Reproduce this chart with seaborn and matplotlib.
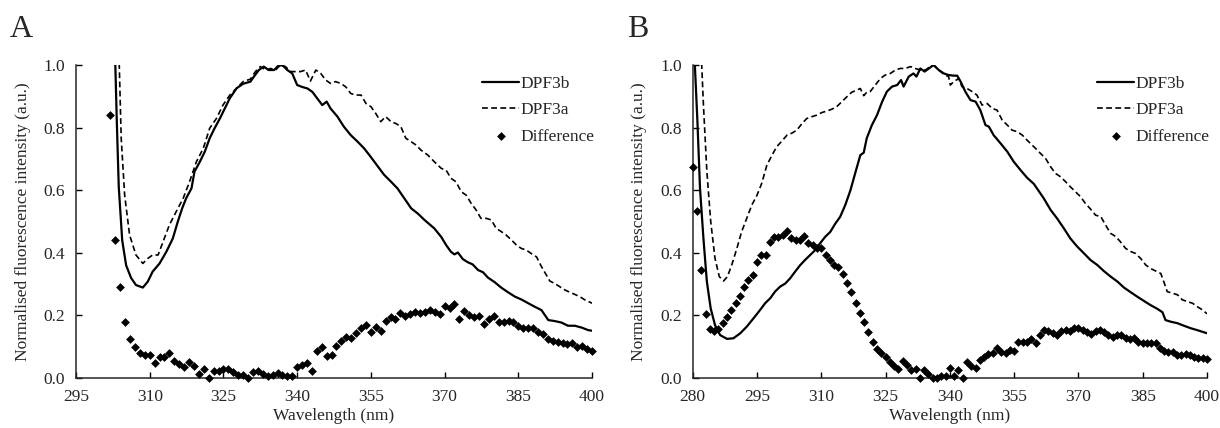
import numpy as np
import pandas as pd
import matplotlib
matplotlib.use('Agg')
import matplotlib.pyplot as plt
import seaborn as sns

# ---- Panel A data ----
a_3b_nm = [302.5, 303.0, 303.3, 303.7, 304.4, 305.2, 306.2, 307.2, 308.6, 309.6,
           310.6, 312.0, 313.4, 314.7, 315.7, 316.6, 317.4, 318.5, 319.1, 320.2,
           321.2, 322.2, 323.2, 324.3, 325.3, 326.3, 327.7, 329.0, 330.5, 331.2,
           332.2, 333.2, 334.2, 335.3, 336.3, 337.1, 338.0, 339.0, 340.0, 341.0,
           342.1, 343.1, 344.1, 345.1, 346.0, 346.8, 348.2, 349.5, 350.9, 352.3,
           353.6, 354.7, 355.7, 356.7, 357.7, 359.1, 360.4, 361.8, 363.2, 364.5,
           365.9, 367.9, 369.3, 370.3, 371.3, 372.0, 372.7, 373.7, 374.7, 375.7,
           376.8, 377.8, 378.8, 380.2, 381.5, 382.9, 384.3, 385.6, 387.0, 388.3,
           389.7, 390.4, 391.1, 392.4, 393.8, 395.1, 396.5, 397.9, 399.2, 400.0]
a_3b = [1.40, 1.00, 0.82, 0.61, 0.44, 0.36, 0.32, 0.297, 0.289, 0.308,
        0.34, 0.366, 0.404, 0.446, 0.499, 0.542, 0.574, 0.606, 0.659, 0.691,
        0.723, 0.766, 0.798, 0.83, 0.862, 0.894, 0.926, 0.940, 0.947, 0.963,
        0.984, 0.995, 0.984, 0.984, 1.0, 0.998, 0.984, 0.973, 0.936, 0.93,
        0.925, 0.914, 0.893, 0.872, 0.883, 0.861, 0.835, 0.803, 0.776, 0.755,
        0.734, 0.712, 0.691, 0.67, 0.649, 0.627, 0.606, 0.574, 0.542, 0.526,
        0.505, 0.478, 0.451, 0.425, 0.403, 0.395, 0.401, 0.38, 0.37, 0.363,
        0.345, 0.338, 0.321, 0.306, 0.289, 0.274, 0.26, 0.251, 0.239, 0.228,
        0.217, 0.201, 0.185, 0.182, 0.177, 0.167, 0.167, 0.161, 0.153, 0.151]

a_3a_nm = [303.3, 303.8, 304.2, 304.9, 305.9, 307.2, 308.6, 309.6, 310.6, 311.7,
           312.7, 314.0, 315.4, 316.8, 318.1, 319.5, 320.9, 322.2, 323.6, 324.9,
           326.3, 327.7, 329.0, 330.5, 331.5, 332.5, 333.6, 334.6, 335.6, 336.6,
           337.6, 338.7, 339.7, 340.7, 341.7, 342.7, 343.8, 344.8, 345.8, 346.8,
           347.8, 348.9, 349.9, 350.9, 351.9, 353.0, 354.0, 355.0, 356.0, 357.0,
           358.0, 359.1, 360.1, 361.1, 362.1, 363.2, 364.2, 365.2, 366.6, 367.9,
           369.3, 370.3, 371.3, 372.3, 373.4, 374.4, 375.4, 376.4, 377.4, 378.5,
           379.5, 380.5, 381.5, 382.5, 383.6, 384.6, 385.6, 386.6, 387.6, 388.7,
           389.7, 390.7, 391.4, 392.4, 393.4, 394.5, 395.5, 396.5, 397.5, 398.5,
           400.0]
a_3a = [1.40, 1.0, 0.765, 0.584, 0.457, 0.393, 0.366, 0.382, 0.393, 0.393,
        0.435, 0.489, 0.532, 0.574, 0.627, 0.691, 0.734, 0.798, 0.83, 0.872,
        0.904, 0.926, 0.947, 0.955, 0.979, 0.995, 0.984, 0.989, 0.984, 1.0,
        0.995, 0.979, 0.979, 0.979, 0.984, 0.949, 0.984, 0.973, 0.952, 0.941,
        0.947, 0.941, 0.93, 0.909, 0.904, 0.904, 0.877, 0.867, 0.845, 0.819,
        0.835, 0.819, 0.813, 0.803, 0.766, 0.755, 0.744, 0.728, 0.712, 0.691,
        0.67, 0.664, 0.638, 0.627, 0.595, 0.584, 0.558, 0.537, 0.51, 0.51,
        0.505, 0.478, 0.468, 0.457, 0.441, 0.425, 0.414, 0.409, 0.398, 0.387,
        0.356, 0.329, 0.31, 0.302, 0.292, 0.281, 0.274, 0.267, 0.26, 0.25,
        0.239]

a_diff_nm = np.arange(302, 401)
a_diff = [0.84, 0.44, 0.29, 0.18, 0.126, 0.10, 0.079, 0.073, 0.073, 0.047,
          0.068, 0.067, 0.079, 0.055, 0.045, 0.034, 0.05, 0.037, 0.013, 0.028,
          0.0, 0.023, 0.023, 0.028, 0.028, 0.019, 0.01, 0.01, 0.0, 0.02,
          0.022, 0.013, 0.006, 0.01, 0.017, 0.01, 0.006, 0.006, 0.036, 0.04,
          0.047, 0.022, 0.086, 0.098, 0.07, 0.073, 0.103, 0.118, 0.132, 0.129,
          0.143, 0.159, 0.169, 0.148, 0.164, 0.15, 0.183, 0.194, 0.19, 0.209,
          0.199, 0.203, 0.212, 0.207, 0.212, 0.217, 0.21, 0.203, 0.231, 0.223,
          0.235, 0.187, 0.215, 0.201, 0.194, 0.198, 0.173, 0.19, 0.198, 0.178,
          0.178, 0.182, 0.18, 0.167, 0.159, 0.161, 0.161, 0.148, 0.141, 0.125,
          0.119, 0.116, 0.113, 0.109, 0.111, 0.1, 0.103, 0.092, 0.087]

# ---- Panel B data ----
b_3b_nm = [280.0, 280.5, 281.1, 281.7, 282.5, 283.3, 284.2, 285.2, 286.4, 288.0,
           289.5, 291.1, 292.6, 294.2, 295.7, 296.9, 298.1, 299.2, 300.4, 301.6,
           302.7, 303.9, 305.1, 306.2, 307.4, 308.6, 309.7, 310.9, 312.1, 313.3,
           314.4, 315.6, 316.8, 317.9, 319.1, 319.9, 320.6, 321.8, 323.0, 324.2,
           325.3, 326.5, 327.7, 328.6, 329.2, 330.4, 331.5, 332.2, 333.1, 334.1,
           335.1, 336.2, 337.4, 338.6, 339.7, 340.9, 341.7, 342.5, 343.6, 344.8,
           346.0, 347.1, 348.3, 349.1, 350.2, 351.8, 353.4, 354.9, 356.5, 358.0,
           359.6, 361.1, 361.9, 363.5, 365.0, 366.6, 368.1, 369.7, 371.3, 372.8,
           374.4, 375.9, 377.5, 379.1, 380.6, 382.2, 383.7, 385.3, 386.8, 388.4,
           389.6, 390.3, 391.5, 393.1, 394.6, 396.2, 397.7, 399.3, 400.0]
b_3b = [1.45, 1.0, 0.819, 0.606, 0.446, 0.308, 0.222, 0.169, 0.137, 0.125,
        0.127, 0.143, 0.164, 0.191, 0.217, 0.239, 0.255, 0.276, 0.292, 0.302,
        0.318, 0.34, 0.361, 0.377, 0.393, 0.409, 0.43, 0.451, 0.467, 0.494,
        0.515, 0.553, 0.6, 0.654, 0.712, 0.72, 0.766, 0.808, 0.84, 0.883,
        0.915, 0.931, 0.936, 0.952, 0.931, 0.963, 0.973, 0.963, 0.989, 0.979,
        0.989, 1.0, 0.984, 0.973, 0.968, 0.966, 0.966, 0.947, 0.915, 0.888,
        0.883, 0.856, 0.808, 0.803, 0.776, 0.75, 0.723, 0.691, 0.664, 0.64,
        0.62, 0.59, 0.574, 0.537, 0.51, 0.478, 0.446, 0.42, 0.398, 0.377,
        0.361, 0.342, 0.324, 0.308, 0.289, 0.274, 0.26, 0.246, 0.233, 0.221,
        0.21, 0.185, 0.18, 0.175, 0.167, 0.159, 0.153, 0.146, 0.143]

b_3a_nm = [281.8, 282.1, 282.5, 283.3, 284.2, 285.2, 286.2, 287.2, 288.1, 289.1,
           290.3, 291.4, 292.6, 293.8, 295.0, 296.1, 297.3, 298.5, 299.6, 300.8,
           302.0, 303.1, 304.3, 305.5, 306.6, 307.8, 309.0, 310.1, 311.3, 312.5,
           313.6, 314.8, 316.0, 317.1, 318.3, 319.1, 319.9, 320.6, 321.4, 322.6,
           323.8, 324.9, 326.1, 327.3, 328.4, 329.6, 330.8, 331.9, 333.1, 334.3,
           335.4, 336.2, 337.4, 338.6, 339.7, 340.1, 340.9, 342.1, 342.8, 344.0,
           345.2, 346.3, 347.5, 348.7, 349.9, 351.0, 352.2, 353.4, 354.5, 355.7,
           356.9, 358.0, 359.2, 360.4, 361.1, 362.3, 363.5, 364.6, 365.8, 367.0,
           368.1, 369.3, 370.5, 371.6, 372.8, 374.0, 375.2, 376.3, 377.5, 378.7,
           379.8, 381.0, 382.2, 383.3, 384.5, 385.7, 386.8, 388.0, 389.2, 389.9,
           390.7, 391.9, 393.1, 394.2, 395.4, 396.6, 397.7, 398.9, 400.0]
b_3a = [1.40, 1.0, 0.872, 0.66, 0.5, 0.382, 0.324, 0.31, 0.324, 0.361,
        0.414, 0.467, 0.51, 0.553, 0.584, 0.622, 0.68, 0.712, 0.739, 0.757,
        0.776, 0.782, 0.792, 0.813, 0.829, 0.835, 0.84, 0.848, 0.853, 0.859,
        0.867, 0.883, 0.899, 0.913, 0.92, 0.925, 0.902, 0.913, 0.915, 0.936,
        0.957, 0.968, 0.973, 0.984, 0.989, 0.989, 0.995, 0.989, 0.984, 0.984,
        0.995, 1.0, 0.984, 0.97, 0.963, 0.936, 0.947, 0.957, 0.931, 0.925,
        0.915, 0.904, 0.872, 0.877, 0.861, 0.856, 0.824, 0.808, 0.792, 0.787,
        0.776, 0.76, 0.744, 0.728, 0.718, 0.702, 0.675, 0.654, 0.643, 0.627,
        0.611, 0.595, 0.579, 0.558, 0.54, 0.52, 0.516, 0.489, 0.462, 0.452,
        0.435, 0.414, 0.404, 0.398, 0.382, 0.361, 0.35, 0.342, 0.334, 0.308,
        0.276, 0.271, 0.266, 0.25, 0.244, 0.239, 0.228, 0.218, 0.205]

b_diff_nm = np.arange(280, 401)
b_diff = [0.675, 0.535, 0.345, 0.204, 0.157, 0.151, 0.157, 0.175, 0.194, 0.217,
          0.239, 0.263, 0.292, 0.313, 0.329, 0.37, 0.393, 0.393, 0.436, 0.449,
          0.452, 0.457, 0.471, 0.446, 0.441, 0.441, 0.455, 0.43, 0.425, 0.414,
          0.414, 0.393, 0.377, 0.361, 0.356, 0.332, 0.302, 0.274, 0.241, 0.209,
          0.18, 0.146, 0.114, 0.093, 0.081, 0.066, 0.052, 0.039, 0.028, 0.054,
          0.042, 0.026, 0.028, 0.0, 0.026, 0.012, 0.0, 0.0, 0.006, 0.006,
          0.033, 0.006, 0.026, 0.0, 0.05, 0.038, 0.031, 0.058, 0.068, 0.077,
          0.079, 0.097, 0.084, 0.081, 0.089, 0.087, 0.116, 0.116, 0.116, 0.124,
          0.113, 0.137, 0.153, 0.15, 0.145, 0.137, 0.15, 0.153, 0.15, 0.159,
          0.159, 0.153, 0.148, 0.14, 0.15, 0.153, 0.148, 0.137, 0.13, 0.137,
          0.137, 0.127, 0.124, 0.129, 0.116, 0.113, 0.111, 0.113, 0.111, 0.095,
          0.086, 0.084, 0.084, 0.073, 0.073, 0.076, 0.073, 0.068, 0.065, 0.063,
          0.062]

sns.set_style("ticks", {"xtick.direction": "in", "ytick.direction": "in"})
plt.rcParams['font.family'] = ['Liberation Serif', 'DejaVu Serif']
plt.rcParams['axes.linewidth'] = 1.1

fig = plt.figure(figsize=(12.2, 4.28), dpi=100)
ax_a = fig.add_axes([0.0623, 0.1168, 0.4230, 0.7313])
ax_b = fig.add_axes([0.5678, 0.1168, 0.4216, 0.7313])


def draw_panel(ax, b_nm, b_val, a_nm, a_val, d_nm, d_val, xmin):
    sns.lineplot(x=b_nm, y=b_val, ax=ax, color='black', lw=1.6,
                 estimator=None, sort=False, label='DPF3b')
    sns.lineplot(x=a_nm, y=a_val, ax=ax, color='black', lw=1.2,
                 estimator=None, sort=False, label='DPF3a',
                 linestyle=(0, (3.5, 2)))
    sns.scatterplot(x=d_nm, y=d_val, ax=ax, color='black', marker='D',
                    s=20, linewidth=0, clip_on=False, zorder=3,
                    label='Difference')
    ax.set_xlim(xmin, 400)
    ax.set_ylim(0, 1.0)
    ax.set_xticks(np.arange(xmin, 401, 15))
    ax.set_yticks(np.arange(0, 1.01, 0.2))
    ax.set_yticklabels([f"{v:.1f}" for v in np.arange(0, 1.01, 0.2)])
    ax.tick_params(axis='both', direction='in', length=4, width=1,
                   labelsize=12.5, pad=8, color='black')
    ax.set_xlabel("Wavelength (nm)", fontsize=12.5, labelpad=2)
    ax.set_ylabel("Normalised fluorescence intensity (a.u.)",
                  fontsize=12.5, labelpad=9)
    sns.despine(ax=ax)
    ax.legend(loc='upper right', bbox_to_anchor=(1.025, 1.0), frameon=False,
              fontsize=12.5, handlelength=2.1, handletextpad=0.1,
              labelspacing=0.6, borderaxespad=0.2)


draw_panel(ax_a, a_3b_nm, a_3b, a_3a_nm, a_3a, a_diff_nm, a_diff, 295)
draw_panel(ax_b, b_3b_nm, b_3b, b_3a_nm, b_3a, b_diff_nm, b_diff, 280)

fig.text(0.008, 0.965, "A", fontsize=23, va='top', ha='left')
fig.text(0.514, 0.965, "B", fontsize=23, va='top', ha='left')

fig.savefig("out.png", dpi=100)
